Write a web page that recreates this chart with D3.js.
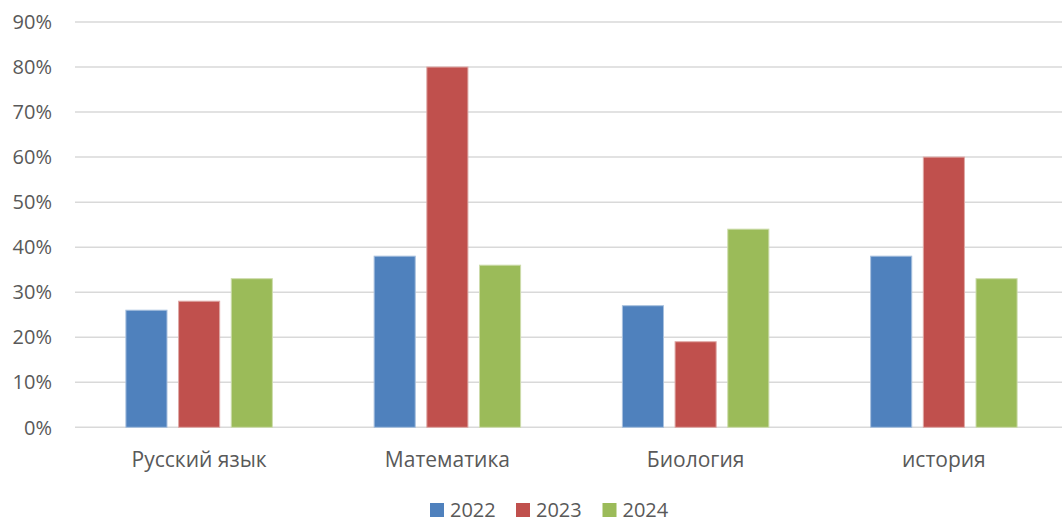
<!DOCTYPE html>
<html lang="ru">
<head>
  <meta charset="UTF-8" />
  <title>Результаты по предметам</title>
  <script src="https://d3js.org/d3.v7.min.js"></script>
  <style>
    html, body { margin: 0; background: #fff; }
    svg { display: block; font-family: "Open Sans", sans-serif; }
    .grid line { stroke: #d9d9d9; stroke-width: 1.5px; }
    .tick-label, .legend text { fill: #595959; font-size: 20px; }
    .cat-label { fill: #595959; font-size: 21px; }
    .bar { stroke-width: 1px; }
  </style>
</head>
<body>
  <svg id="chart"></svg>

  <script>
    // data
    const subjects = ['Русский язык', 'Математика', 'Биология', 'история'];
    const years = ['2022', '2023', '2024'];
    const values2022 = [26, 38, 27, 38];
    const values2023 = [28, 80, 19, 60];
    const values2024 = [33, 36, 44, 33];
    const yTicks = [0, 10, 20, 30, 40, 50, 60, 70, 80, 90];
    const colors = ['#4f81bd', '#c0504d', '#9bbb59'];
    const borders = ['#a7c0de', '#dfa8a6', '#cddcac'];

    const series = [values2022, values2023, values2024];

    const W = 1062, H = 522;
    const plotLeft = 75, plotRight = 1068, plotTop = 22, plotBottom = 427.3;

    const svg = d3.select('#chart').attr('width', W).attr('height', H);

    const y = d3.scaleLinear().domain([0, 90]).range([plotBottom, plotTop]);
    const x0 = d3.scaleBand().domain(subjects).range([plotLeft, plotRight])
      .paddingInner(0.41).paddingOuter(0.205);
    const x1 = d3.scaleBand().domain(years).range([0, x0.bandwidth()])
      .paddingInner(0.22).paddingOuter(0);

    // gridlines
    svg.append('g').attr('class', 'grid')
      .selectAll('line')
      .data(yTicks)
      .enter().append('line')
        .attr('x1', plotLeft).attr('x2', plotRight)
        .attr('y1', d => y(d)).attr('y2', d => y(d));

    // y tick labels
    svg.append('g')
      .selectAll('text')
      .data(yTicks)
      .enter().append('text')
        .attr('class', 'tick-label')
        .attr('x', 52)
        .attr('y', d => y(d))
        .attr('dy', '0.36em')
        .attr('text-anchor', 'end')
        .text(d => d + '%');

    // bars
    const groups = svg.append('g')
      .selectAll('g')
      .data(subjects)
      .enter().append('g')
        .attr('transform', d => `translate(${x0(d)},0)`);

    groups.selectAll('rect')
      .data((d, i) => years.map((yr, k) => ({ yr, k, v: series[k][i] })))
      .enter().append('rect')
        .attr('class', 'bar')
        .attr('x', d => x1(d.yr))
        .attr('width', x1.bandwidth())
        .attr('y', d => y(d.v))
        .attr('height', d => plotBottom - y(d.v))
        .attr('fill', d => colors[d.k])
        .attr('stroke', d => borders[d.k]);

    // category labels
    svg.append('g')
      .selectAll('text')
      .data(subjects)
      .enter().append('text')
        .attr('class', 'cat-label')
        .attr('x', d => x0(d) + x0.bandwidth() / 2)
        .attr('y', 467)
        .attr('text-anchor', 'middle')
        .text(d => d);

    // legend
    const legendX = [430, 516, 602.5];
    const legend = svg.append('g').attr('class', 'legend')
      .selectAll('g')
      .data(years)
      .enter().append('g')
        .attr('transform', (d, i) => `translate(${legendX[i]},503)`);
    legend.append('rect')
      .attr('width', 14).attr('height', 14)
      .attr('fill', (d, i) => colors[i]);
    legend.append('text')
      .attr('x', 20).attr('y', 7).attr('dy', '0.36em')
      .text(d => d);
  </script>
</body>
</html>
